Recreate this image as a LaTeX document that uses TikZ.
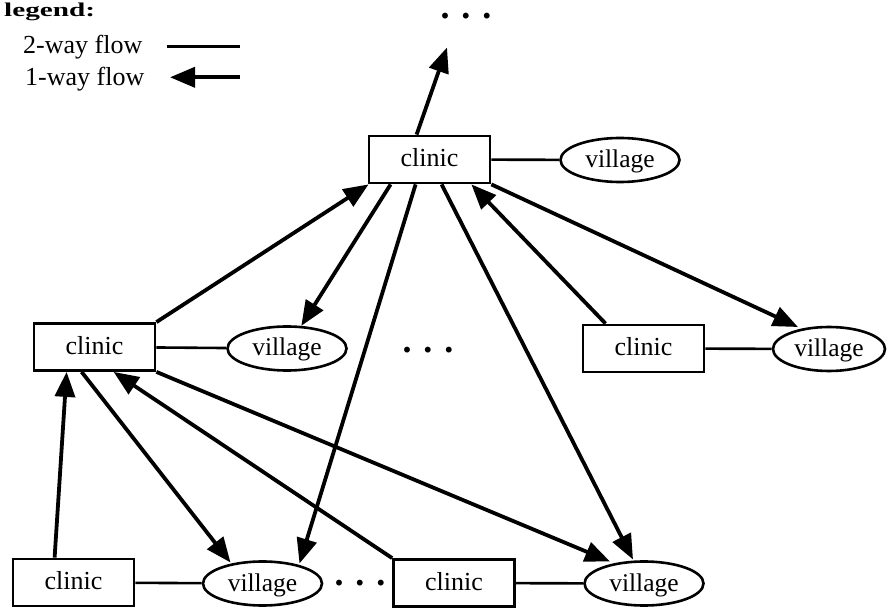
\documentclass[tikz,border=0pt]{standalone}
\usepackage{fontspec}
\setmainfont{Liberation Serif}
\usetikzlibrary{arrows.meta,shapes.geometric,calc}
\begin{document}
\begin{tikzpicture}[x=1pt,y=-1pt,
  clinicbox/.style={draw,line width=2.8pt,minimum width=121pt,minimum height=47pt,inner sep=0pt,
    text height=20pt,text depth=5pt,font=\fontsize{26}{26}\selectfont},
  villageell/.style={draw,ellipse,line width=2.6pt,minimum width=119pt,minimum height=44pt,inner sep=0pt,
    text height=20pt,text depth=5pt,font=\fontsize{25.5}{26}\selectfont},
  twoway/.style={line width=2.6pt},
  oneway/.style={line width=3.8pt,-{Triangle[length=25pt,width=20pt]}},
  dots/.style={font=\fontsize{36}{36}\selectfont\bfseries,inner sep=0pt,anchor=base,text height=5pt,text depth=0pt},
  legtext/.style={font=\fontsize{26}{26}\selectfont,inner sep=0pt,anchor=base west}]
\useasboundingbox (0,0) rectangle (887,609);
% legend
\node[legtext,font=\fontsize{19.5}{20}\selectfont\bfseries] (legtitle) at (4,16.7) {\scalebox{1.5}[1]{legend:}};
\node[legtext] (leg2) at (23,53.3) {2-way flow};
\node[legtext] (leg1) at (25,85.5) {1-way flow};
\coordinate (l2a) at (167,46.7); \coordinate (l2b) at (240,46.7);
\coordinate (l1a) at (240,77.3); \coordinate (l1b) at (170,77.3);
\draw[twoway] (l2a) -- (l2b);
\draw[oneway] (l1a) -- (l1b);
% nodes
\node[clinicbox] (tc) at (429.5,159.5) {clinic};
\node[villageell] (tv) at (620,160) {village};
\node[clinicbox] (lc) at (94.5,347) {clinic};
\node[villageell] (lv) at (287,348.5) {village};
\node[clinicbox] (rc) at (643.5,348.5) {clinic};
\node[villageell,minimum width=112pt] (rv) at (829,349) {village};
\node[clinicbox] (blc) at (73.5,582.5) {clinic};
\node[villageell] (blv) at (262.5,583.5) {village};
\node[clinicbox] (bmc) at (454,583) {clinic};
\node[villageell] (bmv) at (644,583.5) {village};
\node[dots] (topdots) at (466,18.5) {. . .};
\node[dots] (middots) at (428,352.5) {. . .};
\node[dots] (botdots) at (360,585.5) {. . .};
% two-way links
\draw[twoway] (tc) -- (tv);
\draw[twoway] (lc) -- (lv);
\draw[twoway] (rc) -- (rv);
\draw[twoway] (blc) -- (blv);
\draw[twoway] (bmc) -- (bmv);
% one-way flows
\draw[oneway] ($(tc.north west)+(49,0)$) -- ($(topdots.base)+(-19,29)$);
\draw[oneway] (lc.north east) -- ($(tc.south west)+(1,0)$);
\draw[oneway] ($(tc.south west)+(23,0)$) -- (lv);
\draw[oneway] ($(tc.south west)+(48,0)$) -- ($(blv.center)+(37,-20)$);
\draw[oneway] ($(tc.south west)+(74,0)$) -- ($(bmv.center)+(-11,-24)$);
\draw[oneway] ($(rc.north west)+(24,0)$) -- ($(tc.south east)+(-20,0)$);
\draw[oneway] (tc.south east) -- ($(rv.center)+(-31,-22)$);
\draw[oneway] ($(blc.north west)+(43,0)$) -- ($(lc.south west)+(34,0)$);
\draw[oneway] ($(lc.south west)+(49,0)$) -- ($(blv.center)+(-32,-21)$);
\draw[oneway] (bmc.north west) -- ($(lc.south west)+(81,0)$);
\draw[oneway] (lc.south east) -- ($(bmv.center)+(-34,-22)$);
\end{tikzpicture}
\end{document}
